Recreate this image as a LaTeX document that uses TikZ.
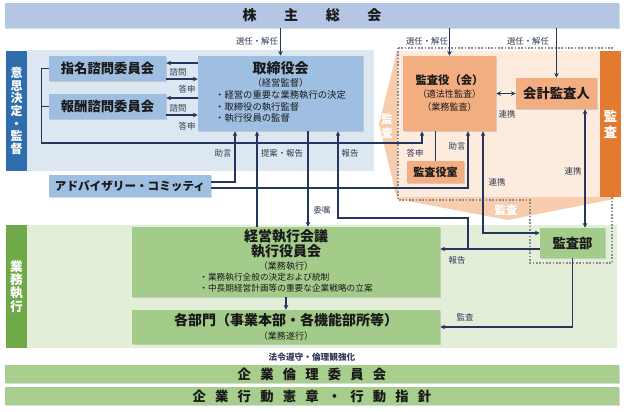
\documentclass[tikz,border=0pt]{standalone}
\usepackage{fontspec}
\setmainfont{Noto Sans CJK JP}
\usetikzlibrary{arrows.meta}
\usetikzlibrary{shadows}

\definecolor{linecol}{HTML}{24365E}
\definecolor{labcol}{HTML}{2E3B55}
\definecolor{topbar}{HTML}{B5C6E5}
\definecolor{bluebox}{HTML}{9EBFE1}
\definecolor{bluepanel}{HTML}{DDE7F1}
\definecolor{blueside}{HTML}{2F6EAC}
\definecolor{orbox}{HTML}{F2AD80}
\definecolor{orside}{HTML}{E27A2F}
\definecolor{orpale}{HTML}{FDEBDD}
\definecolor{orsalmon}{HTML}{F8CDAE}
\definecolor{grbox}{HTML}{A3CB89}
\definecolor{grbar}{HTML}{A7CE8C}
\definecolor{grside}{HTML}{70A948}
\definecolor{grpanel}{HTML}{E3EED9}
\definecolor{dotcol}{HTML}{8C8C8C}

\newcommand{\gapA}{\hspace{20.7pt}}
\newcommand{\kgap}{\hspace{6.9pt}}
\newcommand{\smtxt}{\mdseries\fontsize{7}{8.6}\selectfont}

\tikzset{
  sz/.style 2 args={minimum width=#1*0.75pt, minimum height=#2*0.75pt},
  box/.style={inner sep=0pt, align=center, text=black!90,
    drop shadow={shadow xshift=0.7pt, shadow yshift=-0.7pt, opacity=0.3}},
  bluebx/.style={box, fill=bluebox},
  orbx/.style={box, fill=orbox},
  grbx/.style={box, fill=grbox},
  panel/.style={inner sep=0pt},
  side/.style={inner sep=0pt, align=center, text=white},
  lab/.style={text=labcol, inner sep=0.5pt, font=\fontsize{6.3}{7}\selectfont},
  ttl/.style={font=\fontsize{10}{12}\selectfont\bfseries},
  conn/.style={draw=linecol, line width=0.85pt},
}

\begin{document}
\begin{tikzpicture}[x=0.75pt, y=-0.75pt, >={Stealth[length=3.6pt,width=3.4pt]}]
  \useasboundingbox (0,0) rectangle (624,411);

  % panels behind everything
  \node[panel, fill=bluepanel, sz={347}{121}] (panelA) at (200.5,110.5) {};
  \node[panel, fill=grpanel, sz={590}{123}] (panelB) at (322,286.5) {};
  % audit area with its arrow-like backing
  \fill[orsalmon] (397,51) -- (379,124) -- (397,199) -- (508,220) -- (614,199) -- (614,51) -- cycle;
  \node[panel, fill=orpale, sz={202}{146}] (panelC) at (499,124) {};
  \draw[dotcol, line width=1.2pt, dash pattern=on 1.2pt off 1.3pt]
    (398,48) -- (612,48) -- (612,263) -- (530,263) -- (530,200) -- (398,200) -- cycle;
  \node[side, font=\fontsize{8.5}{11}\selectfont\bfseries] (auditL) at (387,126) {監\\査};
  \node[side, font=\fontsize{8.5}{10}\selectfont\bfseries] (auditB) at (506,210.5) {監査};

  % side bars
  \node[side, fill=blueside, sz={21}{120}, font=\fontsize{9}{9.5}\selectfont\bfseries] (sideA) at (16.5,111) {意\\思\\決\\定\\・\\監\\督};
  \node[side, fill=grside, sz={21}{123}, font=\fontsize{9.5}{10}\selectfont\bfseries] (sideB) at (16.5,286.5) {業\\務\\執\\行};
  \node[side, fill=orside, sz={21}{146}, font=\fontsize{10}{12}\selectfont\bfseries] (sideC) at (610.5,124) {監\\査};

  % top and bottom bars
  \node[box, fill=topbar, sz={614}{25}, font=\fontsize{10.5}{12}\selectfont\bfseries] (soukai) at (312,15.5) {株\gapA 主\gapA 総\gapA 会};
  \node[box, fill=grbar, sz={614}{18}, ttl] (rinri) at (312,374) {企\kgap 業\kgap 倫\kgap 理\kgap 委\kgap 員\kgap 会};
  \node[box, fill=grbar, sz={614}{18}, ttl] (koudou) at (312,396) {企\kgap 業\kgap 行\kgap 動\kgap 憲\kgap 章\kgap ・\kgap 行\kgap 動\kgap 指\kgap 針};

  % decision / supervision
  \node[bluebx, sz={117}{25}, ttl] (shimei) at (107.5,68.5) {指名諮問委員会};
  \node[bluebx, sz={117}{25}, ttl] (houshu) at (107.5,106.5) {報酬諮問委員会};
  \node[bluebx, sz={165}{75}, font=\fontsize{10.5}{9.75}\selectfont] (board) at (280.5,93.5)
    {{\bfseries 取締役会}\\{\smtxt （経営監督）}\\[-0.75pt]
     {\smtxt\begin{tabular}[t]{@{}l@{}}・経営の重要な業務執行の決定\\・取締役の執行監督\\・執行役員の監督\end{tabular}}};
  \node[bluebx, sz={162}{22}, font=\fontsize{8.7}{10}\selectfont\bfseries] (advisory) at (130,186) {アドバイザリー・コミッティ};

  % audit side
  \node[orbx, sz={93}{75}, font=\fontsize{8.5}{9.75}\selectfont] (kansayaku) at (449.5,93.5)
    {{\bfseries 監査役（会）}\\{\fontsize{6.8}{8}\selectfont （適法性監査）}\\{\fontsize{6.8}{8}\selectfont （業務監査）}};
  \node[orbx, sz={81}{31}, ttl] (kaikei) at (556.5,93.5) {会計監査人};
  \node[orbx, sz={57}{22}, font=\fontsize{8.3}{10}\selectfont\bfseries] (kansashitsu) at (435.5,172) {監査役室};

  % execution
  \node[grbx, sz={308}{70}, font=\fontsize{10.5}{9.75}\selectfont\bfseries] (keiei) at (286,262)
    {経営執行会議\\執行役員会\\{\mdseries\fontsize{6.8}{8}\selectfont （業務執行）}\\[-1.5pt]
     {\mdseries\fontsize{6.5}{7.6}\selectfont\begin{tabular}[t]{@{}l@{}}・業務執行全般の決定および統制\\・中長期経営計画等の重要な企業戦略の立案\end{tabular}}};
  \node[grbx, sz={308}{34}, font=\fontsize{10.5}{10.5}\selectfont\bfseries] (kakubumon) at (286,327)
    {各部門（事業本部・各機能部所等）\\{\mdseries\fontsize{6.8}{8}\selectfont （業務遂行）}};
  \node[grbx, sz={65}{30}, ttl] (kansabu) at (572.5,243) {監査部};

  % shareholders elect
  \draw[conn,->] (board.north |- soukai.south) -- (board.north);
  \draw[conn,->] (kansayaku.north |- soukai.south) -- (kansayaku.north);
  \draw[conn,->] (kaikei.north |- soukai.south) -- (kaikei.north);
  % committees
  \draw[conn,->] ([yshift=4.1pt]shimei.east -| board.west) -- ([yshift=4.1pt]shimei.east);
  \draw[conn,->] ([yshift=-7.9pt]shimei.east) -- ([yshift=-7.9pt]shimei.east -| board.west);
  \draw[conn,->] ([yshift=6.4pt]houshu.east -| board.west) -- ([yshift=6.4pt]houshu.east);
  \draw[conn,->] ([yshift=-6.4pt]houshu.east) -- ([yshift=-6.4pt]houshu.east -| board.west);
  \draw[conn,->] (shimei.west) -- ++(-7,0) |- (422,143) -- (kansayaku.south -| 422,0);
  \draw[conn] (houshu.west) -- ++(-7,0);
  % advisory
  \draw[conn,->] ([yshift=3pt]advisory.east) -| (board.south -| 235,0);
  \draw[conn,->] ([yshift=-1.5pt]advisory.east) -| (kansayaku.south -| 468,0);
  % board and execution
  \draw[conn,->] (keiei.north -| 257,0) -- (board.south -| 257,0);
  \draw[conn,->] (board.south -| 308,0) -- (keiei.north -| 308,0);
  \draw[conn,->] (keiei.south) -- (kakubumon.north);
  % internal audit reports
  \draw[conn,->] ([yshift=-4.5pt]kansabu.west) -- ([yshift=-4.5pt]kansabu.west -| keiei.east);
  \draw[conn,->] (468,249) |- (338,218) -- (board.south -| 338,0);
  \draw[conn,->] (kansabu.south) |- (kakubumon.east);
  % audit cooperation
  \draw[conn] (kansayaku.south -| kansashitsu.north) -- (kansashitsu.north);
  \draw[conn,<->] (kansayaku.east) -- (kaikei.west);
  \draw[conn,<->] (kansayaku.south -| 483,0) |- ([yshift=7.5pt]kansabu.west);
  \draw[conn,<->] (kaikei.south -| 585,0) -- (kansabu.north -| 585,0);

  % labels
  \node[lab] (lSenA) at (257,41) {選任・解任};
  \node[lab] (lSenB) at (427,41) {選任・解任};
  \node[lab] (lSenC) at (528,41) {選任・解任};
  \node[lab] (lShiA) at (178,72) {諮問};
  \node[lab] (lTouA) at (187,89) {答申};
  \node[lab] (lShiB) at (178,108) {諮問};
  \node[lab] (lTouB) at (187,126) {答申};
  \node[lab] (lJoA) at (223,153) {助言};
  \node[lab] (lTei) at (282,153) {提案・報告};
  \node[lab] (lHouA) at (350,153) {報告};
  \node[lab] (lIsh) at (322,210) {委嘱};
  \node[lab] (lTouC) at (415,153) {答申};
  \node[lab] (lJoB) at (457,146) {助言};
  \node[lab] (lRenA) at (507,114) {連携};
  \node[lab] (lRenB) at (497,182) {連携};
  \node[lab] (lRenC) at (573,171) {連携};
  \node[lab] (lHouB) at (457,260) {報告};
  \node[lab] (lKan) at (465,317) {監査};
  \node[lab, font=\fontsize{6.5}{7}\selectfont\bfseries] (lHourei) at (312,357) {法令遵守・倫理観強化};
\end{tikzpicture}
\end{document}
